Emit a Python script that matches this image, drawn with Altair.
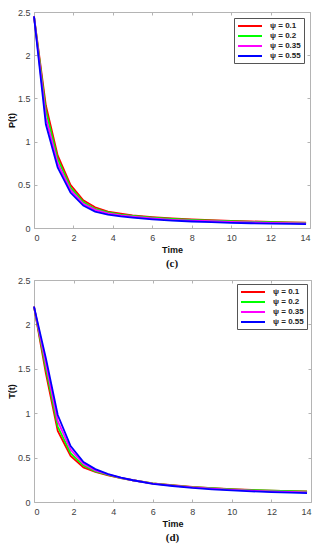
import altair as alt
import pandas as pd

time = [0, 0.6, 1.2, 1.85, 2.5, 3.1, 3.75, 4.4, 5.0, 6, 7, 8, 9, 10, 11, 12, 13, 13.8]
psi_labels = ["ψ = 0.1", "ψ = 0.2", "ψ = 0.35", "ψ = 0.55"]
colors = ["#ff0000", "#00ff00", "#ff00ff", "#0000ff"]
x_ticks = [0, 2, 4, 6, 8, 10, 12, 14]
y_ticks = [0, 0.5, 1, 1.5, 2, 2.5]

# panel (c): P(t)
P_01 = [2.45, 1.42, 0.84, 0.50, 0.32, 0.24, 0.19, 0.165, 0.145, 0.125, 0.11, 0.10, 0.09, 0.082, 0.076, 0.070, 0.066, 0.063]
P_02 = [2.45, 1.36, 0.80, 0.47, 0.30, 0.22, 0.18, 0.155, 0.140, 0.120, 0.105, 0.095, 0.085, 0.078, 0.072, 0.067, 0.063, 0.060]
P_035 = [2.45, 1.28, 0.75, 0.44, 0.28, 0.21, 0.17, 0.145, 0.130, 0.110, 0.095, 0.085, 0.078, 0.070, 0.065, 0.060, 0.056, 0.053]
P_055 = [2.45, 1.20, 0.70, 0.41, 0.26, 0.19, 0.155, 0.135, 0.120, 0.100, 0.085, 0.075, 0.068, 0.060, 0.055, 0.050, 0.047, 0.045]

# panel (d): T(t)
T_01 = [2.2, 1.45, 0.80, 0.52, 0.39, 0.34, 0.30, 0.27, 0.245, 0.21, 0.19, 0.170, 0.157, 0.145, 0.135, 0.128, 0.122, 0.118]
T_02 = [2.2, 1.50, 0.85, 0.55, 0.41, 0.345, 0.305, 0.27, 0.245, 0.21, 0.188, 0.168, 0.155, 0.143, 0.134, 0.127, 0.121, 0.117]
T_035 = [2.2, 1.56, 0.91, 0.59, 0.43, 0.355, 0.31, 0.272, 0.245, 0.208, 0.184, 0.164, 0.150, 0.137, 0.127, 0.120, 0.113, 0.108]
T_055 = [2.2, 1.62, 0.98, 0.63, 0.45, 0.37, 0.315, 0.275, 0.245, 0.205, 0.180, 0.158, 0.143, 0.130, 0.120, 0.112, 0.105, 0.100]

FONT = "Liberation Sans"
FRAME = "#b4b4b4"


def make_df(series):
    rows = []
    for lab, vals in zip(psi_labels, series):
        for t, v in zip(time, vals):
            rows.append({"t": t, "v": v, "psi": lab})
    return pd.DataFrame(rows)


def panel(series, ytitle, caption, W, H, loff):
    df = make_df(series)
    base = alt.Chart(df)
    xs = alt.Scale(domain=[0, 14], nice=False)
    ys = alt.Scale(domain=[0, 2.5], nice=False)
    lines = base.mark_line(strokeWidth=1.8).encode(
        x=alt.X("t:Q", scale=xs, axis=alt.Axis(
            title="Time", values=x_ticks, format="~g", ticks=False, domain=False,
            grid=False, labelPadding=5, labelFontSize=9, labelColor="#404040",
            labelFont=FONT, titleFont=FONT, titleFontSize=9, titleFontWeight="bold",
            titlePadding=3, titleColor="#111111")),
        y=alt.Y("v:Q", scale=ys, axis=alt.Axis(
            title=ytitle, values=y_ticks, format="~g", ticks=False, domain=False,
            grid=False, labelPadding=4, labelFontSize=9, labelColor="#404040",
            labelFont=FONT, titleFont=FONT, titleFontSize=9, titleFontWeight="bold",
            titlePadding=1, titleColor="#111111", minExtent=0)),
        color=alt.Color("psi:N", scale=alt.Scale(domain=psi_labels, range=colors),
                        legend=alt.Legend(
                            title=None, orient="top-right", offset=loff,
                            strokeColor="#555555", fillColor="white", padding=3,
                            symbolType="M-3,0L3,0", symbolStrokeWidth=2, symbolSize=64,
                            symbolOffset=8, labelOffset=15,
                            labelFont=FONT, labelFontSize=8, labelFontWeight="bold",
                            labelColor="#222222", rowPadding=1)),
    )
    ticks_a = base.mark_point(opacity=0).encode(
        x=alt.X("t:Q", scale=xs, axis=alt.Axis(
            orient="top", offset=-H, labels=False, title=None, domain=False, grid=False,
            ticks=True, tickSize=3, tickColor=FRAME, values=x_ticks, minExtent=0)),
        y=alt.Y("v:Q", scale=ys, axis=alt.Axis(
            orient="right", offset=-W, labels=False, title=None, domain=False, grid=False,
            ticks=True, tickSize=3, tickColor=FRAME, values=y_ticks, minExtent=0)),
    )
    ticks_b = base.mark_point(opacity=0).encode(
        x=alt.X("t:Q", scale=xs, axis=alt.Axis(
            orient="bottom", offset=-H, labels=False, title=None, domain=False, grid=False,
            ticks=True, tickSize=3, tickColor=FRAME, values=x_ticks, minExtent=0)),
        y=alt.Y("v:Q", scale=ys, axis=alt.Axis(
            orient="left", offset=-W, labels=False, title=None, domain=False, grid=False,
            ticks=True, tickSize=3, tickColor=FRAME, values=y_ticks, minExtent=0)),
    )
    return alt.layer(lines, ticks_a, ticks_b).resolve_axis(
        x="independent", y="independent"
    ).properties(
        width=W, height=H,
        title=alt.TitleParams(caption, orient="bottom", font="Liberation Serif",
                              fontSize=11, fontWeight="bold", offset=4, color="#111111"),
    )


top = panel([P_01, P_02, P_035, P_055], "P(t)", "(c)", 276, 216, 6)
bottom = panel([T_01, T_02, T_035, T_055], "T(t)", "(d)", 277, 222, 4)

chart = alt.vconcat(top, bottom, spacing=5).resolve_scale(color="independent").properties(
    padding={"left": -2, "top": -1, "right": 0, "bottom": 0}
).configure_view(stroke=FRAME, strokeWidth=1)

chart.save("out.html", embed_options={"renderer": "svg", "actions": False})
